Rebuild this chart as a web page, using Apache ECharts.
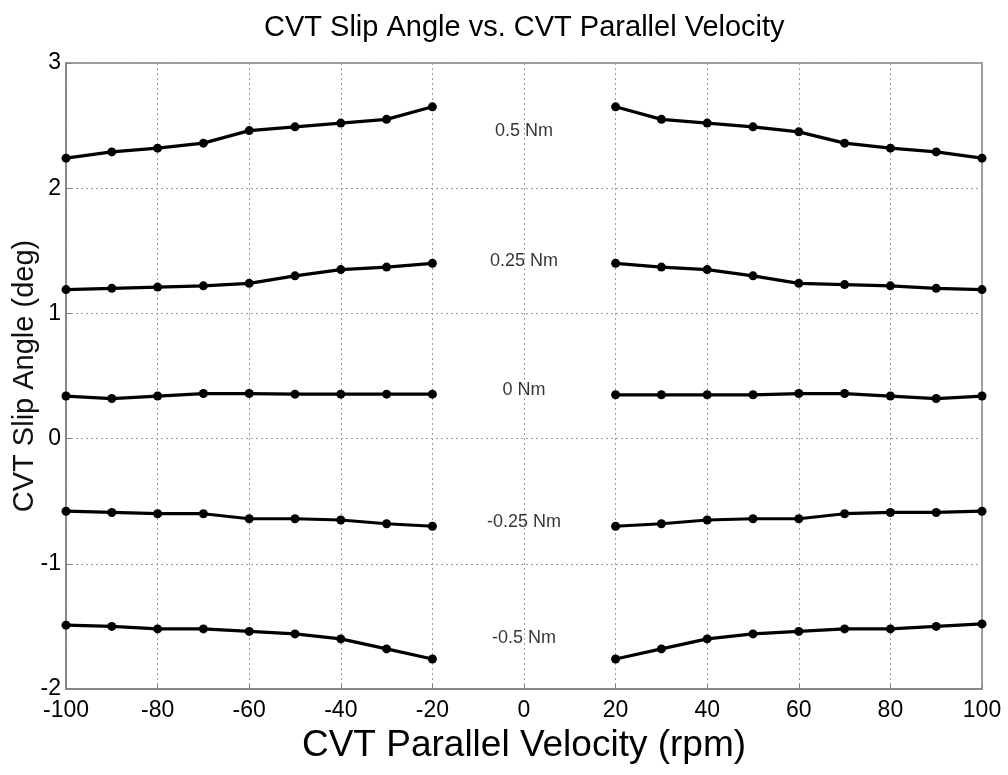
<!DOCTYPE html>
<html>
<head>
<meta charset="utf-8">
<title>CVT Slip Angle vs. CVT Parallel Velocity</title>
<script src="https://cdn.jsdelivr.net/npm/echarts@6/dist/echarts.min.js"></script>
<style>
  html, body { margin: 0; padding: 0; background: #fff; }
  #chart { width: 1008px; height: 775px; }
</style>
</head>
<body>
<div id="chart"></div>
<script>
// Parallel velocity (rpm) for the negative and positive branches
const velocityNeg = [-100, -90, -80, -70, -60, -50, -40, -30, -20];
const velocityPos = [20, 30, 40, 50, 60, 70, 80, 90, 100];

// Slip angle (deg) per applied torque, negative / positive branch
const slip050Neg = [2.24, 2.29, 2.32, 2.36, 2.46, 2.49, 2.52, 2.55, 2.65];
const slip050Pos = [2.65, 2.55, 2.52, 2.49, 2.45, 2.36, 2.32, 2.29, 2.24];
const slip025Neg = [1.19, 1.20, 1.21, 1.22, 1.24, 1.30, 1.35, 1.37, 1.40];
const slip025Pos = [1.40, 1.37, 1.35, 1.30, 1.24, 1.23, 1.22, 1.20, 1.19];
const slip000Neg = [0.34, 0.32, 0.34, 0.36, 0.36, 0.355, 0.355, 0.355, 0.355];
const slip000Pos = [0.35, 0.35, 0.35, 0.35, 0.36, 0.36, 0.34, 0.32, 0.34];
const slipM025Neg = [-0.58, -0.59, -0.60, -0.60, -0.64, -0.64, -0.65, -0.68, -0.70];
const slipM025Pos = [-0.70, -0.68, -0.65, -0.64, -0.64, -0.60, -0.59, -0.59, -0.58];
const slipM050Neg = [-1.49, -1.50, -1.52, -1.52, -1.54, -1.56, -1.60, -1.68, -1.76];
const slipM050Pos = [-1.76, -1.68, -1.60, -1.56, -1.54, -1.52, -1.52, -1.50, -1.48];

// Torque annotations, placed in the gap at zero velocity
const torqueLabels = ['0.5 Nm', '0.25 Nm', '0 Nm', '-0.25 Nm', '-0.5 Nm'];
const torqueLabelSlip = [2.46, 1.42, 0.39, -0.67, -1.59];

// Axis ticks
const xTicks = { min: -100, max: 100, step: 20 };
const yTicks = { min: -2, max: 3, step: 1 };

const FONT = '"Liberation Sans", Arial, Helvetica, sans-serif';

const branches = [
  [velocityNeg, slip050Neg], [velocityPos, slip050Pos],
  [velocityNeg, slip025Neg], [velocityPos, slip025Pos],
  [velocityNeg, slip000Neg], [velocityPos, slip000Pos],
  [velocityNeg, slipM025Neg], [velocityPos, slipM025Pos],
  [velocityNeg, slipM050Neg], [velocityPos, slipM050Pos]
];

const lineSeries = branches.map(([xs, ys]) => ({
  type: 'line',
  data: xs.map((x, i) => [x, ys[i]]),
  symbol: 'circle',
  symbolSize: 9,
  showSymbol: true,
  lineStyle: { color: '#000', width: 3.2 },
  itemStyle: { color: '#000' },
  silent: true,
  animation: false
}));

const labelSeries = {
  type: 'scatter',
  data: torqueLabels.map((t, i) => ({ name: t, value: [0, torqueLabelSlip[i]] })),
  symbolSize: 0,
  silent: true,
  animation: false,
  label: {
    show: true,
    position: 'inside',
    formatter: p => p.name,
    color: '#000',
    fontFamily: FONT,
    fontSize: 18
  }
};

const chart = echarts.init(document.getElementById('chart'), null, { renderer: 'canvas' });
chart.setOption({
  backgroundColor: '#fff',
  animation: false,
  title: {
    text: 'CVT Slip Angle vs. CVT Parallel Velocity',
    left: 259,
    top: 8,
    textStyle: { fontFamily: FONT, fontSize: 29, fontWeight: 'normal', color: '#000' }
  },
  grid: {
    left: 66, right: 26, top: 63, bottom: 86,
    outerBoundsMode: 'none',
    containLabel: false,
    show: true, borderColor: '#808080', borderWidth: 1.5, backgroundColor: '#fff'
  },
  xAxis: {
    type: 'value',
    min: xTicks.min, max: xTicks.max, interval: xTicks.step,
    name: 'CVT Parallel Velocity (rpm)',
    nameLocation: 'middle',
    nameGap: 38,
    nameTextStyle: { fontFamily: FONT, fontSize: 37, color: '#000', verticalAlign: 'top' },
    axisLine: { show: true, onZero: false, lineStyle: { color: '#808080', width: 1.5 } },
    axisTick: { show: true, inside: true, length: 5, lineStyle: { color: '#808080' } },
    axisLabel: { fontFamily: FONT, fontSize: 23, color: '#000', margin: 10 },
    splitLine: { show: true, lineStyle: { color: '#9a9a9a', type: [2, 3], width: 1 } }
  },
  yAxis: {
    type: 'value',
    min: yTicks.min, max: yTicks.max, interval: yTicks.step,
    name: 'CVT Slip Angle (deg)',
    nameLocation: 'middle',
    nameGap: 27,
    nameMoveOverlap: false,
    nameTextStyle: { fontFamily: FONT, fontSize: 29, color: '#111' },
    axisLine: { show: true, onZero: false, lineStyle: { color: '#808080', width: 1.5 } },
    axisTick: { show: true, inside: true, length: 5, lineStyle: { color: '#808080' } },
    axisLabel: { fontFamily: FONT, fontSize: 23, color: '#000', margin: 5 },
    splitLine: { show: true, lineStyle: { color: '#9a9a9a', type: [2, 3], width: 1 } }
  },
  series: [...lineSeries, labelSeries]
});
</script>
</body>
</html>
